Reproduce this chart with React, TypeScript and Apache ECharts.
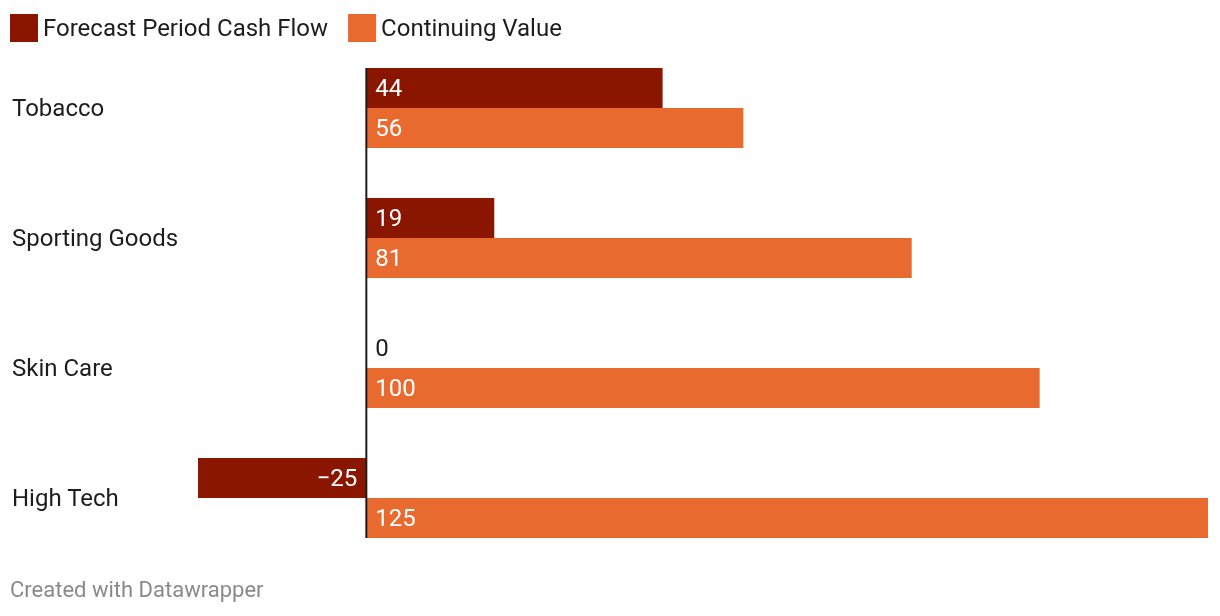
import React, { useEffect, useRef } from "react";
import * as echarts from "echarts";

const categories = ["Tobacco", "Sporting Goods", "Skin Care", "High Tech"];
const forecastValues = [44, 19, 0, -25];
const continuingValues = [56, 81, 100, 125];
const seriesNames = ["Forecast Period Cash Flow", "Continuing Value"];
const footerText = "Created with Datawrapper";

const DARK = "#8b1600";
const ORANGE = "#e86a2f";
const TEXT = "#1d1d1d";
const BAR_W = 40;
const FONT = "Roboto, 'Noto Sans', sans-serif";

export default function App() {
  const ref = useRef<HTMLDivElement>(null);
  useEffect(() => {
    if (!ref.current) return;
    const chart = echarts.init(ref.current, undefined, { renderer: "svg" });
    const forecastData = forecastValues.map((v) => {
      if (v < 0) {
        return { value: v, label: { position: "insideRight" } };
      }
      if (v === 0) {
        return { value: v, label: { color: TEXT } };
      }
      return { value: v };
    });
    chart.setOption({
      animation: false,
      textStyle: { fontFamily: FONT },
      legend: {
        left: 10,
        top: 14,
        padding: 0,
        itemWidth: 28,
        itemHeight: 28,
        itemGap: 20,
        icon: "rect",
        data: seriesNames,
        textStyle: { fontSize: 24, color: TEXT, fontFamily: FONT },
      },
      grid: { left: 198, right: 12, top: 43, bottom: 53, containLabel: false },
      xAxis: {
        type: "value",
        min: -25,
        max: 125,
        show: false,
      },
      yAxis: {
        type: "category",
        inverse: true,
        data: categories,
        axisLine: { show: false },
        axisTick: { show: false },
        splitLine: { show: false },
        axisLabel: {
          align: "left",
          margin: 186,
          fontSize: 24,
          color: TEXT,
          fontFamily: FONT,
        },
      },
      graphic: [
        {
          type: "text",
          left: 10,
          top: 578,
          style: {
            text: footerText,
            fontSize: 22,
            fill: "#8a8a8a",
            fontFamily: FONT,
          },
        },
      ],
      series: [
        {
          name: seriesNames[0],
          type: "bar",
          barWidth: BAR_W,
          barGap: "0%",
          itemStyle: { color: DARK },
          label: {
            show: true,
            position: "insideLeft",
            distance: 9,
            color: "#ffffff",
            fontSize: 24,
            fontFamily: FONT,
            formatter: (p: any) =>
              p.value < 0 ? "\u2212" + Math.abs(p.value) : String(p.value),
          },
          data: forecastData,
        },
        {
          name: seriesNames[1],
          type: "bar",
          barWidth: BAR_W,
          barGap: "0%",
          itemStyle: { color: ORANGE },
          label: {
            show: true,
            position: "insideLeft",
            distance: 9,
            color: "#ffffff",
            fontSize: 24,
            fontFamily: FONT,
          },
          data: continuingValues,
        },
        {
          type: "custom",
          name: "zero",
          z: 10,
          silent: true,
          data: [[0]],
          renderItem: (params: any, api: any) => {
            const top = api.coord([0, 0]);
            const bottom = api.coord([0, categories.length - 1]);
            return {
              type: "line",
              shape: {
                x1: top[0],
                y1: top[1] - BAR_W,
                x2: bottom[0],
                y2: bottom[1] + BAR_W,
              },
              style: { stroke: TEXT, lineWidth: 2 },
            };
          },
        },
      ],
    });
    return () => chart.dispose();
  }, []);
  return (
    <div
      ref={ref}
      style={{ position: "fixed", left: 0, top: 0, width: 1220, height: 616 }}
    />
  );
}
